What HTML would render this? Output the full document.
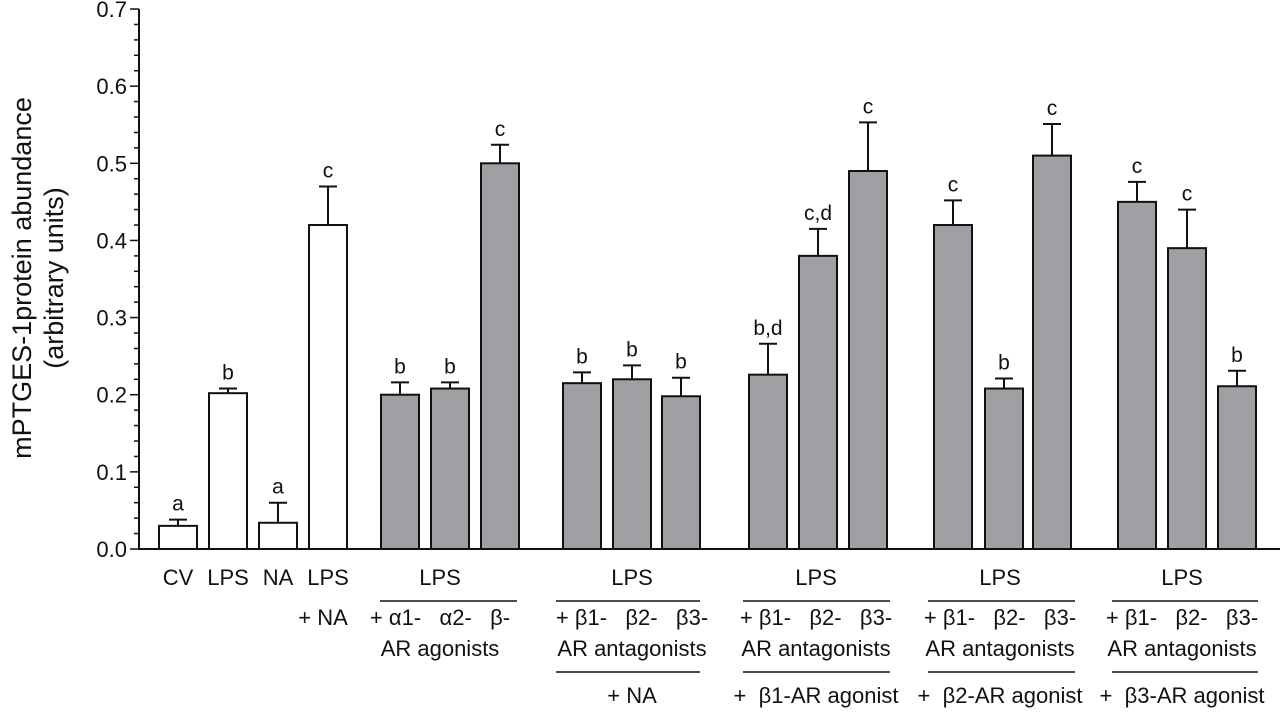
<!DOCTYPE html>
<html><head><meta charset="utf-8"><style>
body{margin:0;background:#fff}
svg text{font-family:"Liberation Sans",Arial,sans-serif;fill:#111;white-space:pre}
</style></head><body>
<svg id="c" width="1280" height="709" xmlns="http://www.w3.org/2000/svg"></svg>
<script>
const centers=[178,228,278,328,400,450,500,582,632,681,768,818,868,953,1004,1052,1137,1187,1237];
const values=[0.03,0.202,0.034,0.42,0.2,0.208,0.5,0.215,0.22,0.198,0.226,0.38,0.49,0.42,0.208,0.51,0.45,0.39,0.211];
const errTops=[0.038,0.208,0.06,0.47,0.216,0.216,0.524,0.229,0.238,0.222,0.266,0.415,0.553,0.452,0.221,0.551,0.476,0.44,0.231];
const letters=["a","b","a","c","b","b","c","b","b","b","b,d","c,d","c","c","b","c","c","c","b"];
const filled=[0,0,0,0,1,1,1,1,1,1,1,1,1,1,1,1,1,1,1];
const yTicks=[0,0.1,0.2,0.3,0.4,0.5,0.6,0.7];
const svg=document.getElementById('c');
const NS='http://www.w3.org/2000/svg';
const y=v=>549-v*771.4;
function mk(t,a,name,txt){const e=document.createElementNS(NS,t);for(const k in a)e.setAttribute(k,a[k]);


if(txt!==undefined)e.textContent=txt;svg.appendChild(e);return e;}
mk('line',{x1:139,y1:y(0.7),x2:139,y2:549.5,stroke:'#111','stroke-width':2},'y-axis');
mk('line',{x1:138,y1:549,x2:1280,y2:549,stroke:'#111','stroke-width':2},'x-axis');
for(let i=0;i<=35;i++){const v=i*0.02;const major=i%5===0;
mk('line',{x1:major?130:134,x2:139,y1:y(v),y2:y(v),stroke:'#111','stroke-width':1.5},'y-tick');}
yTicks.forEach(v=>mk('text',{x:127,y:y(v)+8,'text-anchor':'end','font-size':22},'y-tick-label',v.toFixed(1)));
mk('text',{transform:'translate(31,278) rotate(-90)','text-anchor':'middle','font-size':27},'y-axis-title','mPTGES-1protein abundance');
mk('text',{transform:'translate(63,278) rotate(-90)','text-anchor':'middle','font-size':27},'y-axis-title-units','(arbitrary units)');
centers.forEach((c,i)=>{
 const w=38;
 mk('line',{x1:c,x2:c,y1:y(errTops[i]),y2:y(values[i]),stroke:'#111','stroke-width':2},'error-bar');
 mk('line',{x1:c-9,x2:c+9,y1:y(errTops[i]),y2:y(errTops[i]),stroke:'#111','stroke-width':2},'error-cap');
 mk('rect',{x:c-w/2,y:y(values[i]),width:w,height:549-y(values[i]),fill:filled[i]?'#a0a0a4':'#fff',stroke:'#111','stroke-width':2},'bar');
 mk('text',{x:c,y:y(errTops[i])-9,'text-anchor':'middle','font-size':21},'significance-letter',letters[i]);
});
const T=(x,yy,s,name)=>mk('text',{x:x,y:yy,'text-anchor':'middle','font-size':22},name,s);
const L=(x1,x2,yy)=>mk('line',{x1:x1,x2:x2,y1:yy,y2:yy,stroke:'#111','stroke-width':1.5},'group-line');
T(178,585,'CV','label-cv');T(228,585,'LPS','label-lps');T(278,585,'NA','label-na');T(328,585,'LPS','label-lps-na');T(323,625,'+ NA','label-plus-na');
const groups=[[440,380,517,'+ α1-   α2-   β-','AR agonists',null],[632,556,700,'+ β1-   β2-   β3-','AR antagonists','+ NA'],[816,743,890,'+ β1-   β2-   β3-','AR antagonists','+  β1-AR agonist'],[1000,928,1075,'+ β1-   β2-   β3-','AR antagonists','+  β2-AR agonist'],[1182,1112,1258,'+ β1-   β2-   β3-','AR antagonists','+  β3-AR agonist']];
groups.forEach(g=>{T(g[0],585,'LPS','group-lps');L(g[1],g[2],601);T(g[0],625,g[3],'group-treatment');T(g[0],656,g[4],'group-class');
 if(g[5]){L(g[1],g[2],672);T(g[0],703,g[5],'group-agonist');}});
</script>
</body></html>
